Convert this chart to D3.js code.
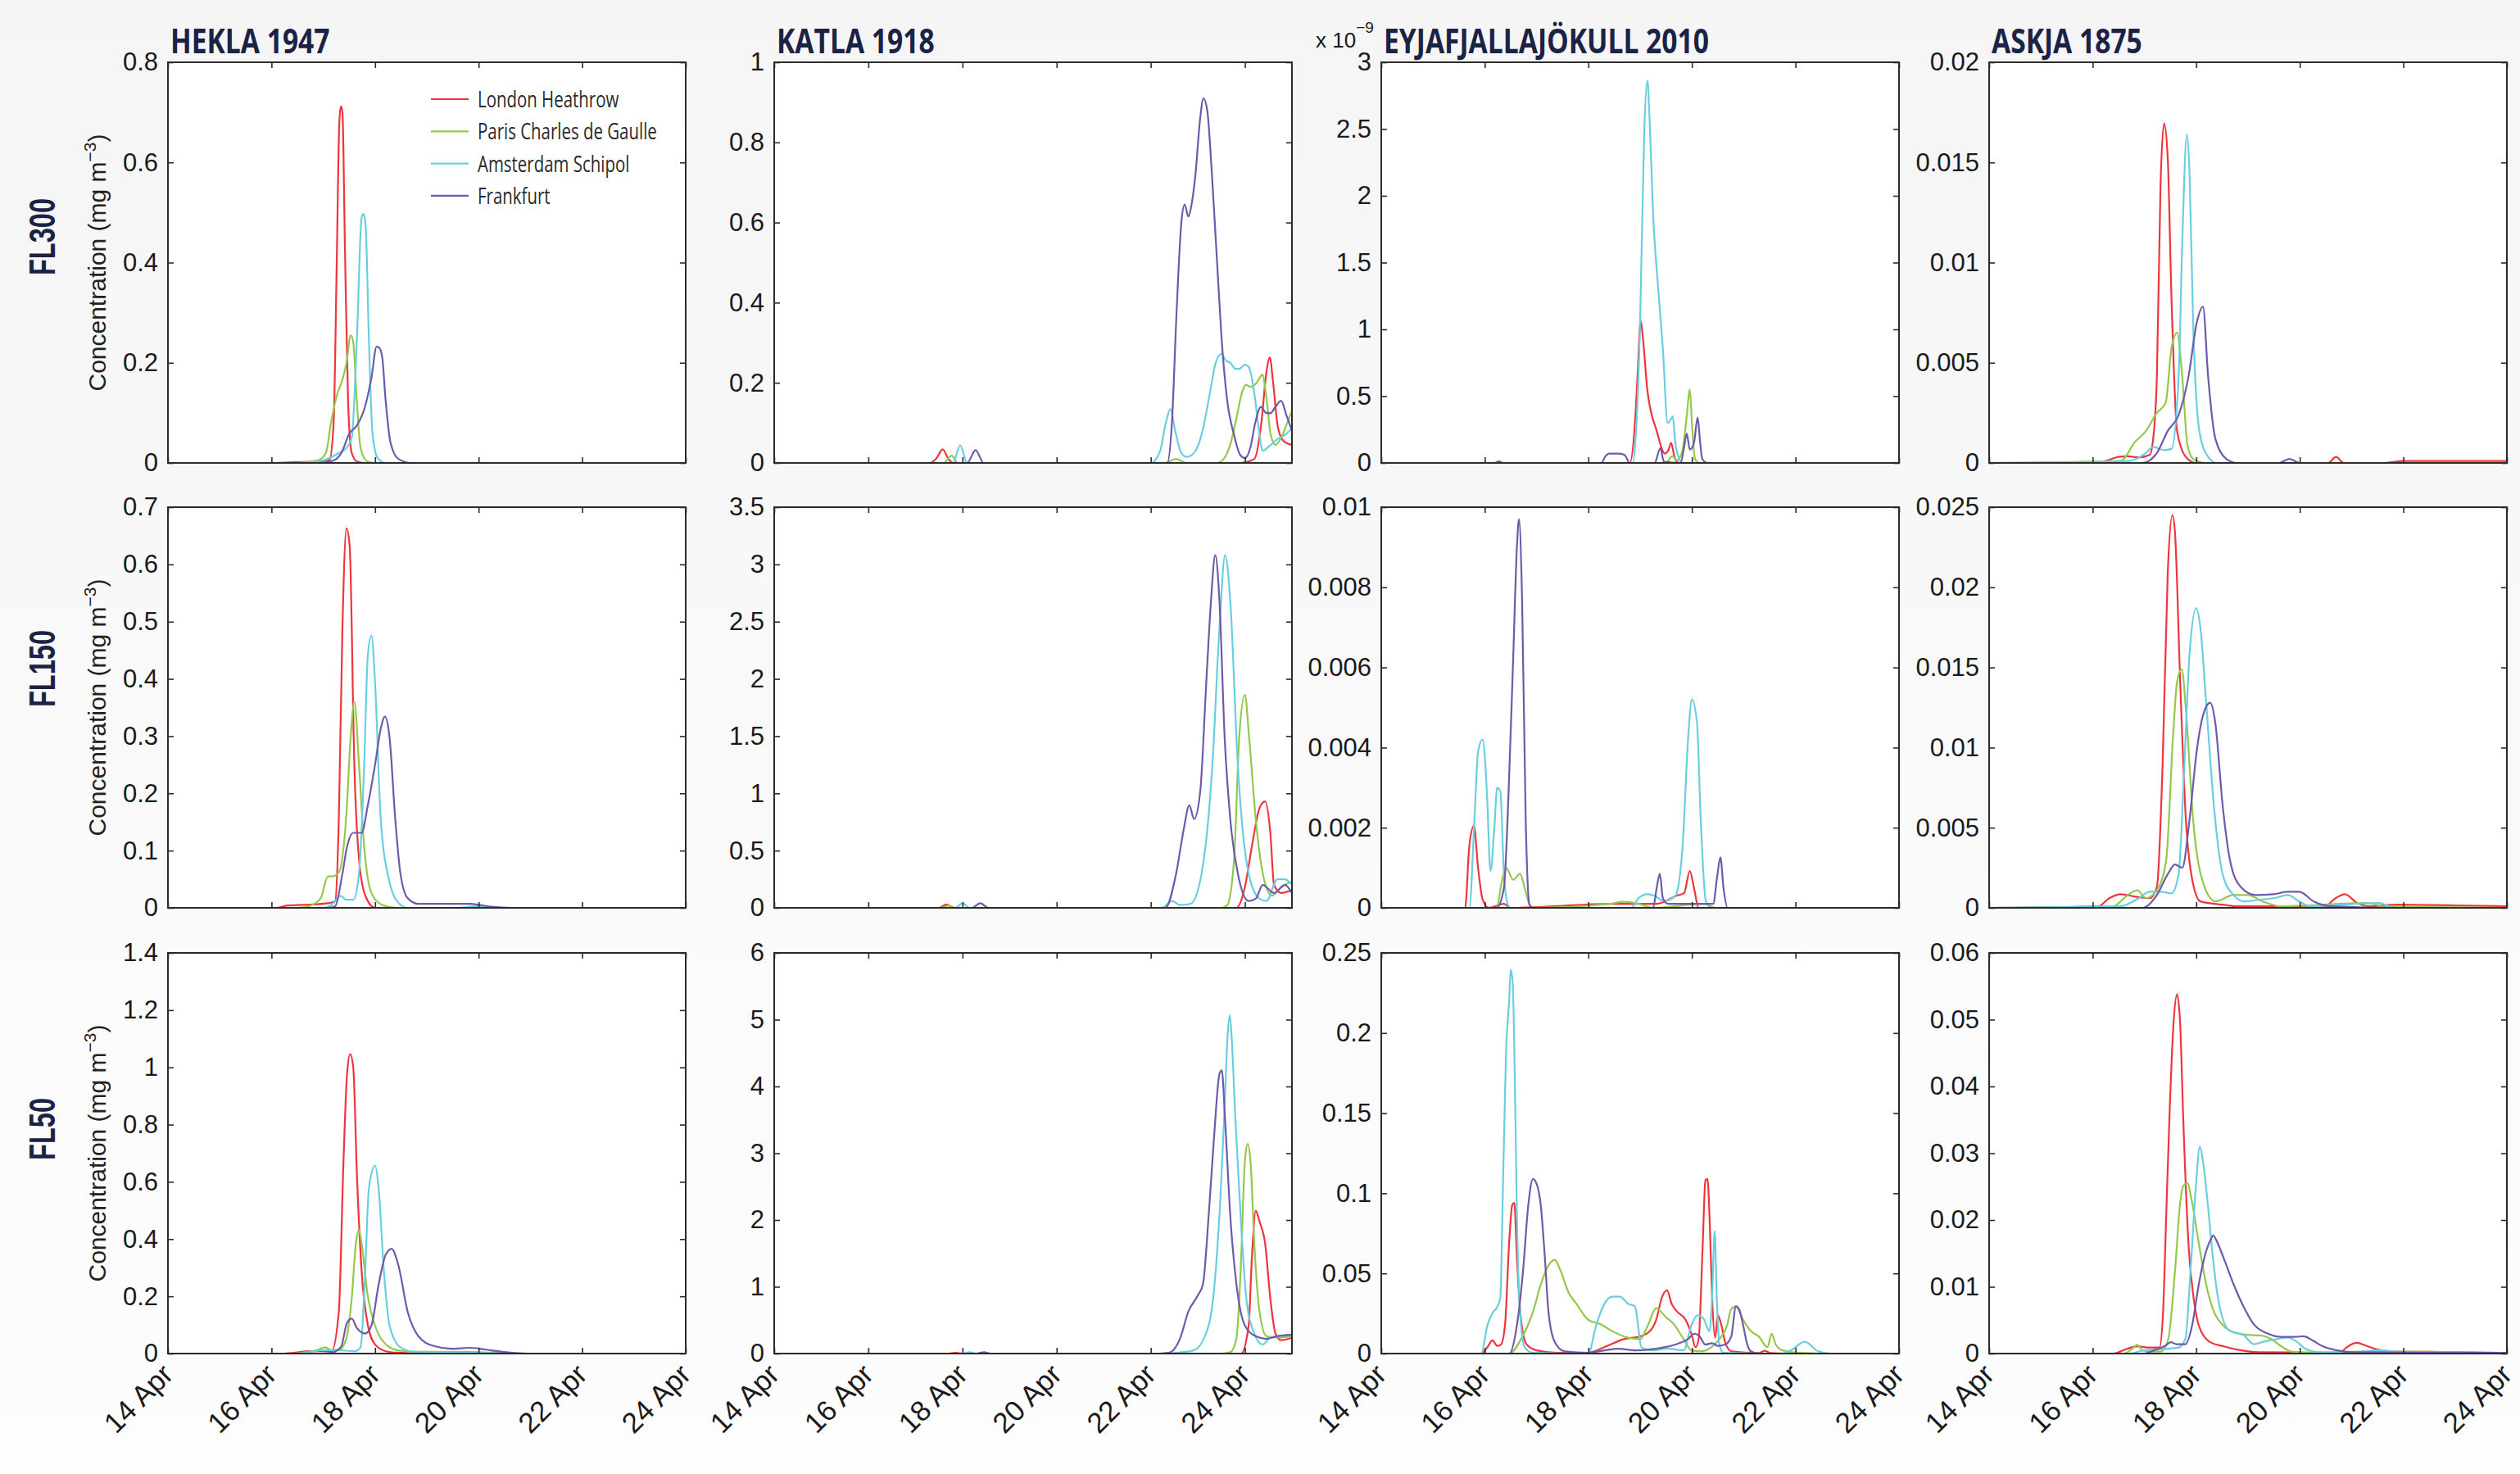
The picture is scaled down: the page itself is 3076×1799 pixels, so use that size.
<!DOCTYPE html>
<html>
<head>
<meta charset="utf-8">
<script src="https://cdn.jsdelivr.net/npm/d3@7"></script>
<style>
  body { margin: 0; background: #f7f7f7; }
  svg { display: block; }
</style>
</head>
<body>
<div id="chart"></div>
<script>
// ---- data (day of April, concentration) ----
const airports = ["London Heathrow", "Paris Charles de Gaulle", "Amsterdam Schipol", "Frankfurt"];
const eruptions = ["HEKLA 1947", "KATLA 1918", "EYJAFJALLAJÖKULL 2010", "ASKJA 1875"];
const levels = ["FL300", "FL150", "FL50"];
const tickDays = [14, 16, 18, 20, 22, 24];
const xEndDay = [24, 25, 24, 24];
const yMax = [[0.8, 1, 3, 0.02], [0.7, 3.5, 0.01, 0.025], [1.4, 6, 0.25, 0.06]];
const yStep = [[0.2, 0.2, 0.5, 0.005], [0.1, 0.5, 0.002, 0.005], [0.2, 1, 0.05, 0.01]];

const hekla300 = [
  [[14,0],[16.1,0],[16.6,0.002],[17.0,0.004],[17.12,0.006],[17.2,0.08],[17.26,0.4],[17.31,0.68],[17.34,0.712],[17.37,0.7],[17.42,0.42],[17.48,0.12],[17.55,0.02],[17.65,0.003],[17.8,0],[24,0]],
  [[14,0],[16.5,0],[16.9,0.005],[17.05,0.02],[17.15,0.08],[17.25,0.13],[17.38,0.17],[17.45,0.2],[17.53,0.255],[17.58,0.24],[17.65,0.12],[17.72,0.03],[17.85,0.003],[18,0],[24,0]],
  [[14,0],[16.6,0],[17.0,0.005],[17.3,0.02],[17.45,0.03],[17.55,0.05],[17.65,0.25],[17.74,0.49],[17.78,0.497],[17.82,0.47],[17.88,0.25],[17.95,0.06],[18.05,0.01],[18.2,0],[24,0]],
  [[14,0],[16.9,0],[17.2,0.005],[17.35,0.02],[17.5,0.058],[17.65,0.075],[17.8,0.11],[17.93,0.17],[18.03,0.232],[18.08,0.23],[18.14,0.21],[18.2,0.13],[18.3,0.04],[18.45,0.008],[18.7,0],[24,0]]
];
const katla300 = [
  [[14,0],[17.3,0],[17.45,0.012],[17.58,0.034],[17.7,0.01],[17.8,0],[23.9,0],[24.2,0.01],[24.35,0.1],[24.45,0.22],[24.53,0.263],[24.6,0.2],[24.7,0.09],[24.82,0.055],[25,0.045]],
  [[14,0],[17.6,0],[17.77,0.018],[17.9,0],[22.3,0],[22.54,0.01],[22.75,0],[23.4,0],[23.55,0.01],[23.7,0.05],[23.8,0.1],[23.95,0.18],[24.02,0.195],[24.12,0.19],[24.25,0.2],[24.37,0.22],[24.45,0.17],[24.55,0.07],[24.65,0.045],[24.78,0.065],[24.9,0.1],[25,0.13]],
  [[14,0],[17.8,0],[17.95,0.044],[18.1,0],[22.0,0],[22.2,0.03],[22.32,0.1],[22.42,0.134],[22.52,0.08],[22.65,0.025],[22.77,0.015],[22.95,0.03],[23.1,0.08],[23.25,0.17],[23.38,0.25],[23.5,0.272],[23.6,0.255],[23.69,0.25],[23.8,0.235],[23.88,0.235],[24.0,0.245],[24.08,0.24],[24.2,0.175],[24.3,0.08],[24.38,0.03],[24.5,0.04],[24.7,0.06],[24.85,0.07],[25,0.086]],
  [[14,0],[18.1,0],[18.28,0.032],[18.45,0],[22.35,0],[22.45,0.1],[22.55,0.38],[22.65,0.6],[22.72,0.645],[22.8,0.615],[22.86,0.64],[22.95,0.72],[23.05,0.86],[23.12,0.91],[23.2,0.88],[23.3,0.72],[23.4,0.52],[23.5,0.32],[23.62,0.16],[23.77,0.07],[23.9,0.02],[24.0,0.012],[24.12,0.04],[24.22,0.1],[24.34,0.14],[24.45,0.125],[24.54,0.124],[24.65,0.14],[24.77,0.155],[24.88,0.12],[25,0.08]]
];
// values in units of 1e-9
const eyja300 = [
  [[14,0],[18.8,0],[18.9,0.3],[18.95,0.65],[19.01,1.066],[19.05,0.95],[19.14,0.545],[19.32,0.24],[19.48,0.07],[19.55,0.1],[19.6,0.15],[19.66,0.05],[19.75,0],[24,0]],
  [[14,0],[19.5,0],[19.62,0.05],[19.72,0.02],[19.82,0.1],[19.9,0.35],[19.96,0.55],[20.0,0.3],[20.06,0.03],[20.15,0],[24,0]],
  [[14,0],[18.85,0],[18.93,0.3],[19.0,1.06],[19.08,2.49],[19.14,2.863],[19.18,2.6],[19.25,1.87],[19.35,1.3],[19.44,0.85],[19.53,0.3],[19.6,0.33],[19.63,0.35],[19.68,0.15],[19.72,0.07],[19.82,0],[24,0]],
  [[14,0],[16.2,0],[16.27,0.012],[16.35,0],[18.25,0],[18.33,0.05],[18.4,0.07],[18.6,0.07],[18.7,0.06],[18.8,0],[19.28,0],[19.39,0.11],[19.46,0.01],[19.78,0],[19.85,0.12],[19.9,0.22],[19.96,0.1],[20.04,0.15],[20.11,0.34],[20.16,0.15],[20.2,0.03],[20.3,0],[24,0]]
];
const askja300 = [
  [[14,0],[16.0,0],[16.25,0.0001],[16.5,0.0003],[16.68,0.00033],[16.9,0.00028],[17.1,0.0004],[17.18,0.0015],[17.24,0.0043],[17.31,0.0138],[17.38,0.01695],[17.45,0.0152],[17.52,0.0084],[17.63,0.0016],[17.8,0.0003],[18.0,0],[20.55,0],[20.7,0.0003],[20.85,0],[21.6,0],[22.0,0.0001],[24,0.0001]],
  [[14,0],[16.54,0.0001],[16.82,0.00105],[17.03,0.0016],[17.24,0.0025],[17.41,0.003],[17.52,0.0057],[17.63,0.0065],[17.73,0.0043],[17.83,0.0009],[17.94,0.0002],[18.2,0],[24,0]],
  [[14,0],[16.7,0.0001],[17.03,0.0005],[17.17,0.0008],[17.38,0.00064],[17.52,0.0007],[17.66,0.0043],[17.73,0.011],[17.82,0.0164],[17.87,0.0145],[17.94,0.007],[18.06,0.0016],[18.23,0.0003],[18.4,0],[24,0]],
  [[14,0],[16.96,0],[17.24,0.0005],[17.45,0.0016],[17.66,0.0024],[17.85,0.0043],[18.01,0.007],[18.13,0.0078],[18.23,0.0043],[18.37,0.0012],[18.58,0.0002],[18.79,0],[19.6,0],[19.8,0.0002],[20.0,0],[24,0]]
];

const hekla150 = [
  [[14,0],[16.1,0],[16.3,0.004],[16.8,0.006],[17.1,0.008],[17.23,0.012],[17.3,0.155],[17.37,0.49],[17.45,0.663],[17.51,0.632],[17.6,0.25],[17.72,0.06],[17.86,0.012],[18.0,0],[24,0]],
  [[14,0],[16.5,0],[16.73,0.003],[16.95,0.017],[17.09,0.055],[17.18,0.055],[17.3,0.062],[17.44,0.155],[17.53,0.3],[17.6,0.36],[17.69,0.25],[17.79,0.107],[17.93,0.026],[18.14,0.005],[18.42,0],[24,0]],
  [[14,0],[17.0,0],[17.16,0.005],[17.34,0.021],[17.44,0.014],[17.58,0.014],[17.69,0.06],[17.79,0.25],[17.86,0.44],[17.93,0.476],[18.0,0.394],[18.11,0.155],[18.28,0.045],[18.42,0.012],[18.63,0],[19.6,0],[20.0,0.003],[20.4,0],[24,0]],
  [[14,0],[17.1,0],[17.23,0.003],[17.37,0.06],[17.46,0.107],[17.58,0.131],[17.74,0.131],[17.86,0.179],[18.0,0.25],[18.11,0.313],[18.19,0.334],[18.28,0.298],[18.39,0.155],[18.49,0.06],[18.63,0.017],[18.84,0.007],[19.82,0.007],[20.03,0.005],[20.24,0.002],[20.66,0],[24,0]]
];
const katla150 = [
  [[14,0],[17.5,0],[17.66,0.03],[17.8,0],[23.82,0],[24.0,0.18],[24.15,0.54],[24.31,0.87],[24.43,0.93],[24.54,0.66],[24.62,0.2],[24.77,0.13],[25,0.155]],
  [[14,0],[17.55,0],[17.7,0.02],[17.85,0],[23.5,0],[23.62,0.02],[23.77,0.42],[23.88,1.49],[24.0,1.86],[24.09,1.49],[24.23,0.78],[24.38,0.3],[24.57,0.107],[24.77,0.18],[25,0.23]],
  [[14,0],[17.85,0],[18.0,0.04],[18.15,0],[22.23,0],[22.46,0.06],[22.62,0.024],[22.85,0.036],[23.08,0.3],[23.31,1.25],[23.46,2.45],[23.58,3.08],[23.69,2.68],[23.85,1.25],[24.08,0.3],[24.31,0.08],[24.46,0.06],[24.69,0.25],[24.85,0.25],[25,0.2]],
  [[14,0],[18.2,0],[18.38,0.04],[18.55,0],[22.31,0],[22.54,0.3],[22.69,0.66],[22.82,0.895],[22.92,0.775],[23.05,1.01],[23.18,1.97],[23.28,2.68],[23.37,3.08],[23.46,2.68],[23.57,1.49],[23.69,0.775],[23.85,0.3],[24.08,0.06],[24.23,0.08],[24.38,0.2],[24.62,0.13],[24.85,0.2],[25,0.13]]
];
const eyja150 = [
  [[14,0],[15.62,0],[15.7,0.00153],[15.79,0.00205],[15.87,0.001],[15.96,0.0002],[16.08,0],[16.37,0.0001],[16.5,0],[18.48,0.0001],[18.69,0.0001],[19.32,0.0001],[19.54,0.0002],[19.7,0.0003],[19.85,0.00037],[19.96,0.00092],[20.04,0.0005],[20.13,0],[24,0]],
  [[14,0],[16.23,0],[16.32,0.0006],[16.41,0.001],[16.55,0.0007],[16.68,0.00085],[16.79,0.0004],[16.89,0],[18.41,0.0001],[18.69,0.00015],[18.97,0.0001],[19.25,0],[20.24,0.0001],[20.45,0],[24,0]],
  [[14,0],[15.7,0],[15.8,0.0022],[15.87,0.0039],[15.96,0.0042],[16.04,0.0029],[16.11,0.00092],[16.18,0.0019],[16.24,0.003],[16.3,0.0029],[16.37,0.00085],[16.44,0.0001],[16.5,0],[18.83,0],[18.97,0.00024],[19.14,0.00034],[19.28,0.0003],[19.46,0.00017],[19.68,0.0003],[19.82,0.00153],[19.93,0.0043],[20.0,0.0052],[20.1,0.0046],[20.17,0.0022],[20.27,0.00017],[20.38,0],[24,0]],
  [[14,0],[16.23,0],[16.37,0.0005],[16.46,0.0029],[16.55,0.0063],[16.62,0.009],[16.66,0.0097],[16.72,0.0077],[16.79,0.0022],[16.86,0.0001],[16.93,0],[19.25,0],[19.32,0.0005],[19.38,0.00085],[19.44,0.00024],[19.54,0.0001],[20.1,0.0001],[20.41,0.0001],[20.49,0.0008],[20.55,0.00126],[20.61,0.0005],[20.69,0],[24,0]]
];
const askja150 = [
  [[14,0],[16.11,0.0001],[16.32,0.0006],[16.54,0.00085],[16.82,0.0007],[17.1,0.0006],[17.24,0.0013],[17.35,0.0089],[17.45,0.0209],[17.54,0.0245],[17.59,0.0234],[17.69,0.0141],[17.8,0.0055],[17.92,0.0018],[18.08,0.0004],[18.51,0.0002],[18.79,0.0001],[20.48,0.0001],[20.69,0.0006],[20.87,0.00085],[21.11,0.0003],[21.32,0.0001],[21.89,0.0002],[23.01,0.00015],[24,0.0001]],
  [[14,0],[16.39,0.0001],[16.68,0.0008],[16.86,0.0011],[17.03,0.0006],[17.24,0.0011],[17.42,0.003],[17.55,0.0106],[17.63,0.0141],[17.72,0.0149],[17.8,0.0124],[17.94,0.0055],[18.15,0.0014],[18.37,0.0004],[18.72,0.0008],[19.0,0.0008],[19.28,0.0004],[19.63,0.0001],[21.32,0.0003],[21.61,0.0001],[24,0]],
  [[14,0],[16.54,0.0001],[16.89,0.0006],[17.1,0.001],[17.31,0.001],[17.52,0.0009],[17.66,0.0021],[17.77,0.0089],[17.87,0.0158],[18.0,0.0187],[18.08,0.0175],[18.2,0.0124],[18.34,0.0064],[18.51,0.0021],[18.72,0.0008],[18.93,0.0004],[19.21,0.0005],[19.49,0.0006],[19.77,0.0008],[19.99,0.0004],[20.2,0.0001],[21.54,0.0003],[21.82,0],[24,0]],
  [[14,0],[16.96,0],[17.24,0.0008],[17.45,0.0021],[17.59,0.0027],[17.73,0.0025],[17.87,0.0055],[18.01,0.0098],[18.13,0.012],[18.27,0.0128],[18.37,0.0115],[18.51,0.0064],[18.65,0.003],[18.86,0.0013],[19.14,0.0008],[19.49,0.00085],[19.77,0.001],[19.99,0.001],[20.27,0.0004],[20.62,0.0001],[21.89,0],[24,0]]
];

const hekla50 = [
  [[14,0],[16.2,0],[16.45,0.003],[16.73,0.008],[17.16,0.008],[17.3,0.146],[17.39,0.67],[17.46,0.98],[17.52,1.046],[17.58,0.998],[17.65,0.625],[17.74,0.29],[17.86,0.1],[18.0,0.032],[18.21,0.008],[18.42,0.003],[18.98,0],[24,0]],
  [[14,0],[16.4,0],[16.6,0.003],[16.88,0.012],[17.04,0.022],[17.16,0.012],[17.3,0.012],[17.44,0.05],[17.55,0.194],[17.63,0.385],[17.69,0.431],[17.74,0.385],[17.86,0.2],[18.0,0.098],[18.14,0.046],[18.42,0.012],[18.84,0.006],[19.82,0.006],[20.24,0.003],[20.94,0],[24,0]],
  [[14,0],[16.5,0],[16.73,0.003],[16.95,0.012],[17.3,0.012],[17.6,0.008],[17.72,0.022],[17.81,0.29],[17.88,0.576],[18.0,0.657],[18.07,0.576],[18.17,0.29],[18.28,0.098],[18.49,0.022],[18.77,0.006],[19.82,0.003],[20.66,0],[24,0]],
  [[14,0],[17.0,0],[17.16,0.003],[17.34,0.022],[17.46,0.108],[17.55,0.122],[17.65,0.089],[17.81,0.07],[17.93,0.098],[18.07,0.242],[18.21,0.347],[18.32,0.366],[18.45,0.309],[18.63,0.146],[18.84,0.06],[19.12,0.027],[19.47,0.017],[19.82,0.02],[20.03,0.017],[20.24,0.011],[20.52,0.005],[20.94,0],[24,0]]
];
const katla50 = [
  [[14,0],[17.7,0],[17.85,0.01],[18.0,0],[23.92,0],[24.08,0.42],[24.15,1.45],[24.23,2.14],[24.31,1.98],[24.43,1.65],[24.54,0.83],[24.65,0.3],[24.77,0.2],[25,0.24]],
  [[14,0],[23.5,0],[23.69,0.02],[23.82,0.22],[23.91,1.24],[24.0,2.88],[24.06,3.14],[24.12,2.88],[24.2,1.65],[24.31,0.63],[24.46,0.26],[24.69,0.24],[25,0.26]],
  [[14,0],[18.0,0],[18.15,0.02],[18.3,0],[22.3,0],[22.54,0.01],[22.92,0.05],[23.23,0.42],[23.38,1.24],[23.49,2.47],[23.57,3.7],[23.63,4.72],[23.68,5.07],[23.72,4.72],[23.8,3.49],[23.91,2.06],[24.03,0.83],[24.2,0.3],[24.38,0.135],[24.54,0.24],[25,0.28]],
  [[14,0],[18.3,0],[18.46,0.02],[18.6,0],[22.2,0],[22.38,0.01],[22.62,0.22],[22.8,0.63],[23.0,0.87],[23.11,1.04],[23.23,2.06],[23.35,3.29],[23.46,4.19],[23.51,4.24],[23.58,3.49],[23.69,2.06],[23.82,1.04],[24.0,0.42],[24.23,0.26],[24.46,0.22],[24.69,0.26],[25,0.28]]
];
const eyja50 = [
  [[14,0],[15.93,0],[16.05,0.004],[16.15,0.0082],[16.24,0.0048],[16.31,0.0056],[16.39,0.0176],[16.47,0.069],[16.53,0.0927],[16.57,0.094],[16.62,0.06],[16.7,0.021],[16.81,0.0056],[17.0,0.002],[17.39,0.0005],[18.0,0.0005],[18.31,0.004],[18.69,0.009],[19.0,0.0107],[19.19,0.014],[19.31,0.021],[19.42,0.035],[19.52,0.0394],[19.61,0.031],[19.72,0.026],[19.88,0.021],[19.99,0.0124],[20.07,0.004],[20.13,0.009],[20.21,0.069],[20.26,0.108],[20.3,0.109],[20.34,0.086],[20.39,0.035],[20.45,0.0099],[20.5,0.024],[20.57,0.0176],[20.64,0.0073],[20.76,0.0014],[21.29,0.0003],[21.41,0.0017],[21.52,0.0003],[21.83,0],[24,0]],
  [[14,0],[16.47,0],[16.7,0.009],[16.93,0.026],[17.08,0.043],[17.23,0.055],[17.35,0.0585],[17.46,0.052],[17.62,0.038],[17.77,0.031],[18.0,0.021],[18.23,0.0184],[18.46,0.014],[18.77,0.0099],[19.0,0.009],[19.15,0.0176],[19.31,0.0283],[19.5,0.0227],[19.65,0.0184],[19.84,0.009],[19.99,0.002],[20.18,0.0014],[20.38,0.004],[20.53,0.009],[20.68,0.0176],[20.76,0.0278],[20.85,0.0295],[20.99,0.021],[21.14,0.014],[21.29,0.0107],[21.46,0.004],[21.54,0.0124],[21.62,0.0056],[21.75,0.002],[22.06,0.0005],[22.75,0],[24,0]],
  [[14,0],[15.93,0],[16.05,0.0176],[16.16,0.026],[16.24,0.029],[16.3,0.035],[16.35,0.103],[16.41,0.188],[16.47,0.22],[16.5,0.2395],[16.54,0.231],[16.58,0.171],[16.62,0.086],[16.68,0.026],[16.77,0.004],[16.93,0.0005],[18.0,0],[18.15,0.0176],[18.31,0.031],[18.46,0.0355],[18.61,0.0355],[18.77,0.031],[18.9,0.0295],[18.96,0.0176],[19.02,0.004],[19.23,0.002],[19.53,0.003],[19.84,0.002],[19.99,0.0176],[20.11,0.024],[20.22,0.022],[20.34,0.014],[20.39,0.035],[20.44,0.0765],[20.48,0.035],[20.53,0.0056],[20.61,0.0005],[21.75,0],[21.91,0.002],[22.18,0.0073],[22.44,0.0014],[22.67,0],[24,0]],
  [[14,0],[16.47,0],[16.62,0.0176],[16.74,0.052],[16.84,0.0927],[16.93,0.109],[17.0,0.106],[17.08,0.0927],[17.16,0.06],[17.23,0.026],[17.35,0.0073],[17.54,0.0014],[18.0,0.0005],[18.31,0.002],[18.57,0.003],[18.92,0.002],[19.3,0.003],[19.68,0.0056],[19.92,0.009],[20.05,0.0124],[20.15,0.0107],[20.26,0.0056],[20.39,0.0065],[20.49,0.0048],[20.64,0.0056],[20.76,0.0107],[20.85,0.0295],[20.91,0.0278],[20.99,0.0176],[21.07,0.0056],[21.14,0.0014],[21.29,0],[24,0]]
];
const askja50 = [
  [[14,0],[16.4,0],[16.66,0.0007],[16.86,0.0011],[17.06,0.0009],[17.29,0.0009],[17.36,0.0063],[17.42,0.0206],[17.49,0.037],[17.56,0.0493],[17.63,0.0538],[17.69,0.0493],[17.75,0.035],[17.85,0.0165],[17.95,0.0083],[18.05,0.0042],[18.25,0.0018],[18.52,0.0011],[18.85,0.0005],[19.18,0.0002],[20.77,0.0001],[20.9,0.0009],[21.1,0.0016],[21.3,0.0011],[21.56,0.0005],[21.83,0.0003],[22.49,0.00025],[24,0.0001]],
  [[14,0],[16.6,0],[16.79,0.0009],[16.86,0.0013],[16.96,0.0005],[17.13,0.0003],[17.32,0.0003],[17.46,0.0022],[17.59,0.0124],[17.69,0.0226],[17.75,0.0251],[17.83,0.0255],[17.92,0.0226],[18.05,0.0165],[18.19,0.0104],[18.32,0.0067],[18.52,0.0042],[18.72,0.0032],[18.98,0.0028],[19.25,0.0027],[19.44,0.0022],[19.64,0.0011],[19.84,0.0003],[20.17,0.0001],[21.17,0.0003],[22.49,0.00025],[24,0.0001]],
  [[14,0],[16.73,0],[16.93,0.0004],[17.13,0.0006],[17.39,0.0007],[17.66,0.0009],[17.79,0.0022],[17.89,0.0124],[17.99,0.0247],[18.07,0.031],[18.13,0.0288],[18.22,0.0226],[18.32,0.0145],[18.42,0.0083],[18.52,0.005],[18.65,0.0034],[18.91,0.0028],[19.11,0.0014],[19.31,0.0018],[19.58,0.0022],[19.77,0.0024],[19.94,0.0018],[20.11,0.0007],[20.37,0.0002],[20.83,0.0001],[21.56,0.0005],[21.83,0.0003],[24,0.0001]],
  [[14,0],[16.99,0],[17.19,0.0005],[17.39,0.0011],[17.51,0.0017],[17.62,0.0014],[17.79,0.0014],[17.92,0.0042],[18.05,0.0104],[18.19,0.0153],[18.28,0.0171],[18.33,0.0177],[18.38,0.0171],[18.52,0.0145],[18.72,0.0104],[18.91,0.0071],[19.11,0.0044],[19.38,0.003],[19.64,0.0025],[19.91,0.0025],[20.07,0.0026],[20.24,0.002],[20.44,0.0011],[20.7,0.0005],[21.03,0.0002],[24,0.0001]]
];

const panels = [
  [hekla300, katla300, eyja300, askja300],
  [hekla150, katla150, eyja150, askja150],
  [hekla50, katla50, eyja50, askja50]
];

// ---- layout ----
const width = 3076, height = 1799;
const colLeft = [205, 945, 1686, 2428];
const rowTop = [76, 619, 1163];
const rowLabelOffset = [213, 197, 215];
const panelW = 632, panelH = 489;
const colors = ["#f0343c", "#94c84a", "#68cfe0", "#6d5aab"];
const navy = "#1b2344";
const tickFont = "'Liberation Sans', Arial, sans-serif";
const condFont = "'Open Sans', 'Noto Sans', sans-serif";

const toDate = d => new Date(Date.UTC(2010, 3, 1) + (d - 1) * 864e5);
const fmtY = d3.format("~g");
const fmtX = d3.utcFormat("%-d %b");

const svg = d3.select("#chart")
  .append("svg")
  .attr("width", width)
  .attr("height", height)
  .attr("viewBox", [0, 0, width, height]);

const grad = svg.append("defs").append("linearGradient")
  .attr("id", "bg").attr("x1", 0).attr("y1", 0).attr("x2", 0).attr("y2", 1);
grad.append("stop").attr("offset", "0%").attr("stop-color", "#f5f5f5");
grad.append("stop").attr("offset", "100%").attr("stop-color", "#fdfdfd");
svg.append("rect").attr("width", width).attr("height", height).attr("fill", "url(#bg)");

// column titles
eruptions.forEach((name, c) => {
  svg.append("text")
    .attr("transform", `translate(${colLeft[c] + 3},65) scale(0.8,1)`)
    .attr("font-family", condFont)
    .attr("font-weight", 700)
    .attr("font-size", 42)
    .attr("fill", navy)
    .text(name);
});

// row labels + y axis titles
levels.forEach((lvl, r) => {
  svg.append("text")
    .attr("transform", `translate(67,${rowTop[r] + rowLabelOffset[r]}) rotate(-90) scale(0.74,1)`)
    .attr("text-anchor", "middle")
    .attr("font-family", tickFont)
    .attr("font-weight", 700)
    .attr("font-size", 44)
    .attr("fill", navy)
    .text(lvl);

  const yl = svg.append("text")
    .attr("transform", `translate(129,${rowTop[r] + panelH / 2}) rotate(-90)`)
    .attr("text-anchor", "middle")
    .attr("font-family", tickFont)
    .attr("font-size", 30)
    .attr("fill", "#222");
  yl.append("tspan").text("Concentration (mg m");
  yl.append("tspan").attr("dy", -12).attr("font-size", 21).text("\u22123");
  yl.append("tspan").attr("dy", 12).text(")");
});

panels.forEach((row, r) => {
  row.forEach((series, c) => {
    const x0 = colLeft[c], y0 = rowTop[r];
    const x = d3.scaleUtc()
      .domain([toDate(14), toDate(xEndDay[c])])
      .range([x0, x0 + panelW]);
    const y = d3.scaleLinear()
      .domain([0, yMax[r][c]])
      .range([y0 + panelH, y0]);
    const yTicks = d3.range(0, yMax[r][c] + yStep[r][c] / 2, yStep[r][c]);
    const xTicks = tickDays.map(toDate);

    const g = svg.append("g");
    g.append("rect")
      .attr("x", x0).attr("y", y0)
      .attr("width", panelW).attr("height", panelH)
      .attr("fill", "#fff");

    const clipId = `clip-${r}-${c}`;
    g.append("clipPath").attr("id", clipId)
      .append("rect")
      .attr("x", x0).attr("y", y0 - 2)
      .attr("width", panelW).attr("height", panelH + 2);

    const line = d3.line()
      .x(d => x(toDate(d[0])))
      .y(d => y(d[1]))
      .curve(d3.curveMonotoneX);

    g.append("g")
      .attr("clip-path", `url(#${clipId})`)
      .selectAll("path")
      .data(series)
      .join("path")
        .attr("d", line)
        .attr("fill", "none")
        .attr("stroke", (d, i) => colors[i])
        .attr("stroke-width", 2.2)
        .attr("stroke-linejoin", "round");

    // ticks on all four sides, pointing in
    const styleAxis = a => a
      .call(s => s.select(".domain").remove())
      .call(s => s.selectAll(".tick line").attr("stroke", "#2b2b2b").attr("stroke-width", 1.6))
      .call(s => s.selectAll(".tick text")
        .attr("font-family", tickFont)
        .attr("font-size", 31)
        .attr("fill", "#1a1a1a"));

    g.append("g")
      .attr("transform", `translate(0,${y0})`)
      .call(d3.axisTop(x).tickValues(xTicks).tickSize(-7).tickFormat(""))
      .call(styleAxis);

    const bottom = g.append("g")
      .attr("transform", `translate(0,${y0 + panelH})`)
      .call(d3.axisBottom(x).tickValues(xTicks).tickSize(-7).tickFormat(r === 2 ? fmtX : ""))
      .call(styleAxis);
    bottom.selectAll(".tick text")
      .attr("font-size", 35)
      .attr("text-anchor", "end")
      .attr("x", 0).attr("y", 0).attr("dy", "0.35em")
      .attr("transform", "translate(-1,19) rotate(-45)");

    g.append("g")
      .attr("transform", `translate(${x0},0)`)
      .call(d3.axisLeft(y).tickValues(yTicks).tickSize(-7).tickPadding(12).tickFormat(fmtY))
      .call(styleAxis);

    g.append("g")
      .attr("transform", `translate(${x0 + panelW},0)`)
      .call(d3.axisRight(y).tickValues(yTicks).tickSize(-7).tickFormat(""))
      .call(styleAxis);

    g.append("rect")
      .attr("x", x0).attr("y", y0)
      .attr("width", panelW).attr("height", panelH)
      .attr("fill", "none")
      .attr("stroke", "#2b2b2b")
      .attr("stroke-width", 2);

    // exponent label for the Eyjafjallajokull FL300 panel
    if (r === 0 && c === 2) {
      const ex = svg.append("text")
        .attr("x", x0 - 80).attr("y", 58)
        .attr("font-family", tickFont)
        .attr("font-size", 26)
        .attr("fill", "#1a1a1a");
      ex.append("tspan").text("x 10");
      ex.append("tspan").attr("dy", -18).attr("font-size", 19).text("\u22129");
    }

    // legend in the first panel
    if (r === 0 && c === 0) {
      const lg = g.append("g").attr("transform", `translate(${x0 + 321},${y0 + 45})`);
      airports.forEach((name, i) => {
        lg.append("line")
          .attr("x1", 0).attr("x2", 46)
          .attr("y1", i * 39.3).attr("y2", i * 39.3)
          .attr("stroke", colors[i]).attr("stroke-width", 2.2);
        lg.append("text")
          .attr("transform", `translate(57,${i * 39.3 + 10}) scale(0.73,1)`)
          .attr("font-family", condFont)
          .attr("font-size", 28)
          .attr("fill", "#2a2a2a")
          .text(name);
      });
    }
  });
});
</script>
</body>
</html>
